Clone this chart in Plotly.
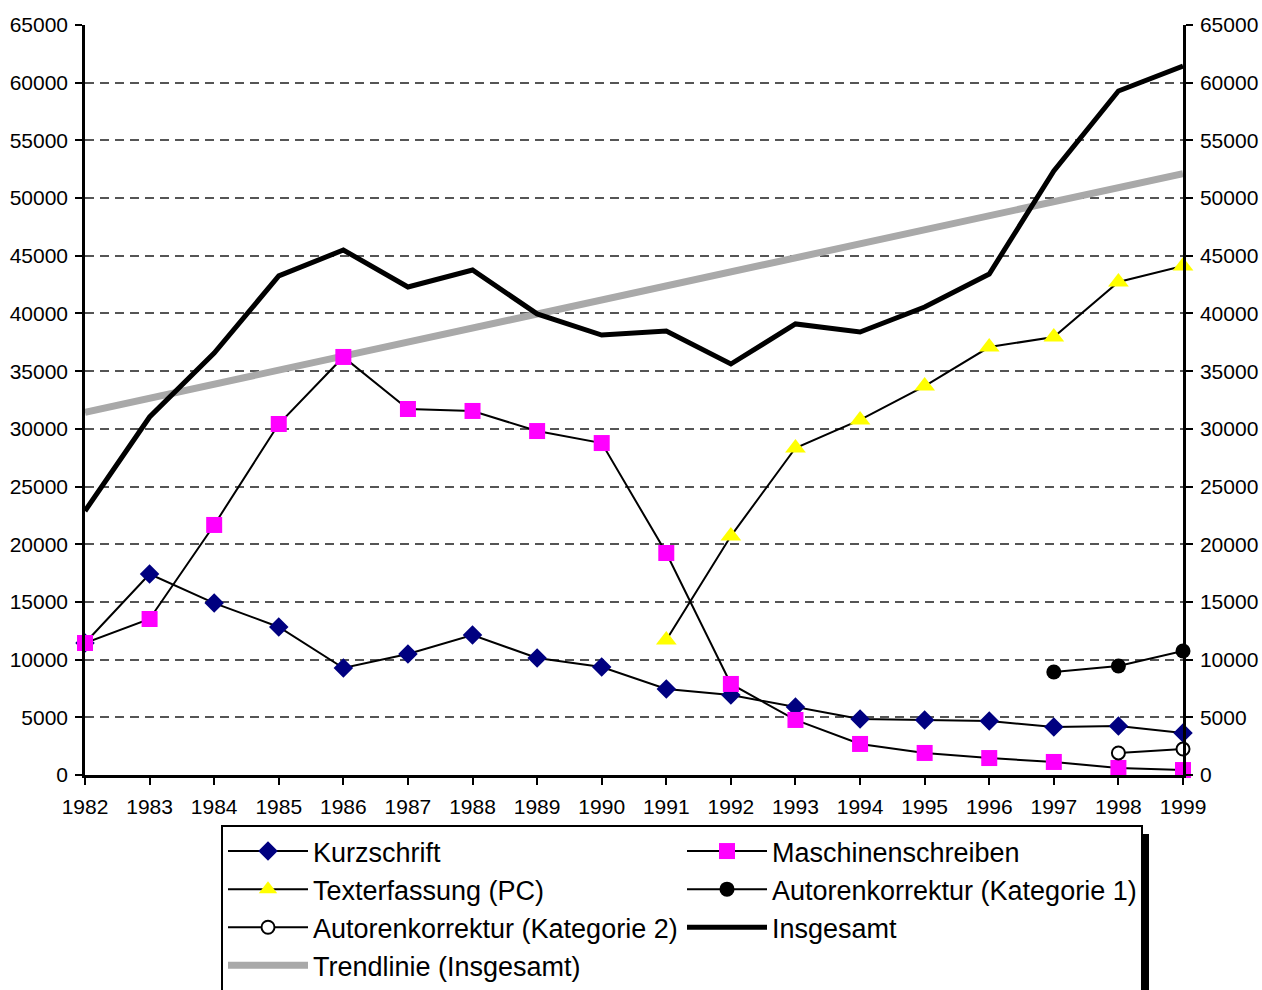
import numpy as np
import plotly.graph_objects as go

years = list(range(1982, 2000))

kurzschrift = [11440, 17420, 14900, 12830, 9270, 10490, 12130, 10140, 9360, 7450,
               6930, 5890, 4850, 4770, 4680, 4160, 4250, 3640]
maschinen = [11440, 13520, 21670, 30420, 36230, 31720, 31550, 29810, 28770, 19240,
             7890, 4770, 2690, 1910, 1470, 1130, 610, 430]
texterfassung = [None] * 9 + [11700, 20710, 28340, 30770, 33710, 37090, 37960, 42730, 44110]
autor1 = [None] * 15 + [8930, 9450, 10750]
autor2 = [None] * 16 + [1910, 2250]
insgesamt = [22880, 31030, 36570, 43250, 45500, 42290, 43770, 39960, 38130, 38480,
             35620, 39090, 38390, 40560, 43420, 52350, 59280, 61450]

y_ticks = list(range(0, 65001, 5000))

# linear trend of Insgesamt
coef = np.polyfit(years, insgesamt, 1)
trend = list(np.polyval(coef, years))

FONT = "Liberation Sans, Arial, sans-serif"

fig = go.Figure()

def line_trace(name, y, symbol, size, color, rank, mline_color=None, mline_width=0):
    return go.Scatter(
        x=years, y=y, name=name, mode="lines+markers",
        line=dict(color="black", width=2),
        marker=dict(symbol=symbol, size=size, color=color,
                    line=dict(color=mline_color or color, width=mline_width)),
        cliponaxis=False, connectgaps=False, legendrank=rank,
    )

fig.add_trace(go.Scatter(x=years, y=trend, name="Trendlinie (Insgesamt)", mode="lines",
                         line=dict(color="#a9a9a9", width=7), legendrank=7,
                         cliponaxis=False))
fig.add_trace(line_trace("Kurzschrift", kurzschrift, "diamond", 15, "#000080", 1))
fig.add_trace(line_trace("Maschinenschreiben", maschinen, "square", 16, "#FF00FF", 2))
fig.add_trace(line_trace("Texterfassung (PC)", texterfassung, "triangle-up", 18, "#FFFF00", 3))
fig.add_trace(line_trace("Autorenkorrektur (Kategorie 1)", autor1, "circle", 15, "black", 4))
fig.add_trace(line_trace("Autorenkorrektur (Kategorie 2)", autor2, "circle", 13, "white", 5,
                         "black", 2))
fig.add_trace(go.Scatter(x=years, y=insgesamt, name="Insgesamt", mode="lines",
                         line=dict(color="black", width=5), cliponaxis=False,
                         legendrank=6))
# invisible trace to carry the right axis
fig.add_trace(go.Scatter(x=years, y=insgesamt, yaxis="y2", mode="lines",
                         line=dict(width=0, color="rgba(0,0,0,0)"), showlegend=False,
                         hoverinfo="skip"))

axis_common = dict(
    showline=True, linecolor="black", linewidth=2.5,
    ticks="outside", ticklen=7, tickwidth=2, tickcolor="black",
    tickfont=dict(family=FONT, size=21, color="black"),
    zeroline=False, automargin=False,
)

fig.update_layout(
    width=1262, height=990,
    margin=dict(l=85, r=79, t=25, b=215, autoexpand=False),
    paper_bgcolor="white", plot_bgcolor="white",
    font=dict(family=FONT, color="black"),
    xaxis=dict(range=[1982, 1999], tickvals=years, ticktext=[str(y) for y in years],
               showgrid=False, ticklabelstandoff=4, **axis_common),
    yaxis=dict(range=[0, 65000], tickvals=y_ticks, ticktext=[str(v) for v in y_ticks],
               showgrid=True, gridcolor="#555555", griddash="9px,6px", gridwidth=1.5,
               ticklabelstandoff=3, **axis_common),
    yaxis2=dict(range=[0, 65000], tickvals=y_ticks, ticktext=[str(v) for v in y_ticks],
                overlaying="y", side="right", showgrid=False, ticklabelstandoff=3,
                **axis_common),
    legend=dict(
        orientation="h", x=(221 - 85) / 1098, y=(775 - 825) / 750,
        xanchor="left", yanchor="top",
        bgcolor="white", bordercolor="black", borderwidth=2,
        font=dict(family=FONT, size=27, color="black"),
        entrywidth=364, entrywidthmode="pixels", itemwidth=80,
        traceorder="normal",
    ),
    showlegend=True,
)

# legend shadow
fig.add_shape(type="rect", xref="paper", yref="paper",
              x0=(226 - 85) / 1098, x1=(1149 - 85) / 1098,
              y0=(775 - 1010) / 750, y1=(775 - 834) / 750,
              fillcolor="black", line=dict(width=0), layer="above")

fig.write_html("out.html",
               config={"displayModeBar": False},
               post_script="document.body.style.margin='0';document.body.style.overflow='hidden';")
